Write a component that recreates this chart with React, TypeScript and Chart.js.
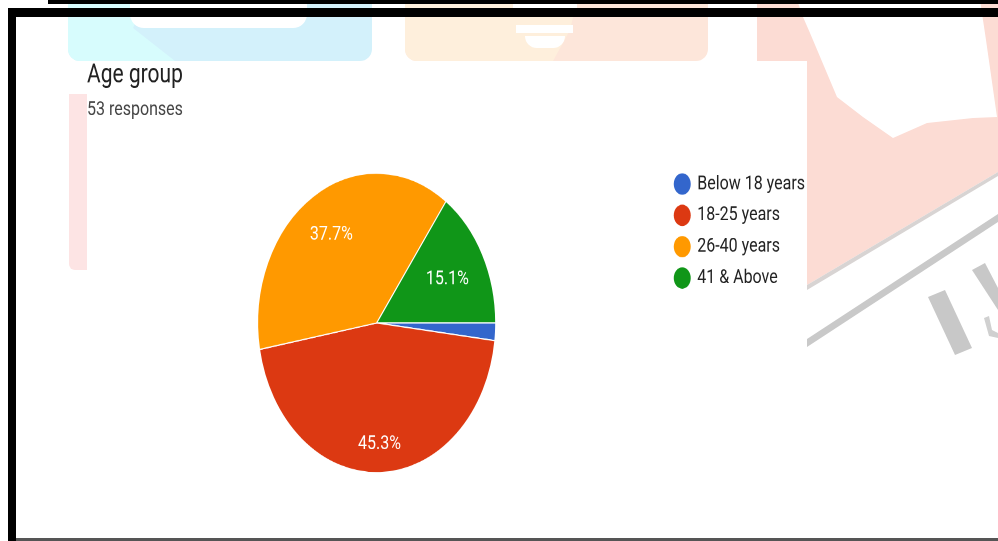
import React, { useEffect, useRef } from 'react';
import { Chart, registerables } from 'chart.js';

Chart.register(...registerables);

// ---- data ----
const categories = ['Below 18 years', '18-25 years', '26-40 years', '41 & Above'];
const responses = [1, 24, 20, 8];
const sliceColors = ['#3366cc', '#dc3912', '#ff9900', '#109618'];
const titleText = 'Age group';
const subtitleText = '53 responses';

// ---- page geometry (the original screenshot is stretched vertically) ----
const PAGE_W = 998;
const PAGE_H = 541;
const LOGICAL_H = 430;

const sliceLabelPlugin = {
  id: 'sliceLabels',
  afterDatasetsDraw(chart: any) {
    const ctx = chart.ctx;
    const meta = chart.getDatasetMeta(0);
    const data = chart.data.datasets[0].data as number[];
    const total = data.reduce((a: number, b: number) => a + b, 0);
    const fontSize = 16;
    ctx.save();
    ctx.font = `${fontSize}px Roboto`;
    ctx.fillStyle = '#ffffff';
    ctx.textAlign = 'center';
    ctx.textBaseline = 'alphabetic';
    meta.data.forEach((arc: any, i: number) => {
      const share = data[i] / total;
      if (share < 0.05) return;
      const { x, y, startAngle, endAngle, outerRadius } = arc.getProps(
        ['x', 'y', 'startAngle', 'endAngle', 'outerRadius'],
        true
      );
      const mid = (startAngle + endAngle) / 2;
      const c = Math.cos(mid);
      const s = Math.sin(mid);
      const text = (share * 100).toFixed(1) + '%';
      const hw = ctx.measureText(text).width / 2;
      const hh = fontSize * 0.36;
      const d = outerRadius * 0.85 - (hw * Math.abs(c) + hh * Math.abs(s));
      ctx.fillText(text, x + c * d, y + s * d + fontSize * 0.355);
    });
    ctx.restore();
  },
};

function defaultLegendLabels(chart: any) {
  const ov: any = (Chart as any).overrides;
  const gen =
    (ov.pie && ov.pie.plugins && ov.pie.plugins.legend && ov.pie.plugins.legend.labels.generateLabels) ||
    ov.doughnut.plugins.legend.labels.generateLabels;
  return gen(chart).map((l: any) => ({ ...l, lineWidth: 0 }));
}

const abs = (s: React.CSSProperties): React.CSSProperties => ({ position: 'absolute', ...s });
const full = (clip: string, color: string): React.CSSProperties =>
  abs({ left: 0, top: 0, width: PAGE_W, height: PAGE_H, background: color, clipPath: `polygon(${clip})` });

export default function App() {
  const ref = useRef<HTMLCanvasElement>(null);

  useEffect(() => {
    if (!ref.current) return;
    const chart = new Chart(ref.current, {
      type: 'pie',
      data: {
        labels: categories,
        datasets: [
          {
            data: responses,
            backgroundColor: sliceColors,
            borderColor: '#ffffff',
            borderWidth: 1,
            radius: 119,
            rotation: 90,
            hoverOffset: 0,
          } as any,
        ],
      },
      options: {
        responsive: false,
        animation: false,
        devicePixelRatio: 2,
        events: [],
        rotation: 90,
        layout: { padding: { left: 87, right: 183, top: 0, bottom: 44.9 } },
        plugins: {
          title: {
            display: true,
            text: titleText,
            align: 'start',
            color: '#212121',
            font: { family: 'Roboto', size: 21, weight: 'normal' },
            padding: { top: 47.6, bottom: 0 },
          },
          subtitle: {
            display: true,
            text: subtitleText,
            align: 'start',
            color: '#444444',
            font: { family: 'Roboto', size: 16, weight: 'normal' },
            padding: { top: 5.3, bottom: 30.96 },
          },
          legend: {
            position: 'right',
            align: 'start',
            fullSize: false,
            title: {
              display: true,
              text: ' ',
              padding: 0,
              font: { family: 'Roboto', size: 1, lineHeight: 1.1 },
            },
            labels: {
              usePointStyle: true,
              pointStyle: 'circle',
              boxWidth: 14,
              boxHeight: 12,
              padding: 8.9,
              color: '#222222',
              font: { family: 'Roboto', size: 16 },
              generateLabels: defaultLegendLabels,
            },
          },
          tooltip: { enabled: false },
        },
      } as any,
      plugins: [sliceLabelPlugin],
    });
    return () => chart.destroy();
  }, []);

  return (
    <div
      style={{
        position: 'absolute',
        left: 0,
        top: 0,
        width: PAGE_W,
        height: PAGE_H,
        overflow: 'hidden',
        background: '#ffffff',
      }}
    >
      {/* faint watermark shapes behind the chart */}
      <div style={abs({ left: 68, top: 0, width: 304, height: 61, background: '#d3f1fb', borderRadius: '0 0 12px 12px', overflow: 'hidden' })}>
        <div style={abs({ left: 0, top: 0, width: 304, height: 61, background: '#d7fcfd', clipPath: 'polygon(0 0, 77px 0, 65px 28px, 107px 61px, 0 61px)' })} />
        <div style={abs({ left: 62, top: -10, width: 177, height: 38, background: '#ffffff', borderRadius: '0 0 14px 14px' })} />
      </div>
      <div style={abs({ left: 405, top: 0, width: 303, height: 61, background: '#fde6da', borderRadius: '0 0 12px 12px', overflow: 'hidden' })}>
        <div style={abs({ left: 0, top: 0, width: 303, height: 61, background: '#feefdc', clipPath: 'polygon(0 0, 172px 0, 165px 30px, 148px 61px, 0 61px)' })} />
        <div style={abs({ left: 108, top: 0, width: 64, height: 8, background: '#ffffff' })} />
        <div style={abs({ left: 111, top: 25, width: 57, height: 8, background: '#ffffff' })} />
        <div style={abs({ left: 120, top: 36, width: 40, height: 12, background: '#ffffff', borderRadius: '0 0 20px 20px' })} />
      </div>
      <div style={full('757px 0, 998px 0, 998px 172px, 807px 285px, 807px 61px, 757px 61px', '#fcdcd4')} />
      <div style={full('797px 0, 980px 0, 986px 40px, 997px 117px, 973px 118px, 927px 123px, 893px 138px, 863px 117px, 837px 97px, 810px 33px, 803px 17px', '#ffffff')} />
      <div style={full('807px 285px, 998px 172px, 998px 176px, 807px 290px', '#d8d4d3')} />
      <div style={full('807px 339px, 998px 214px, 998px 222px, 807px 347px', '#c9c9c9')} />
      <div style={full('928px 297px, 945px 290px, 972px 348px, 955px 355px', '#c8c8c8')} />
      <div style={full('972px 270px, 985px 263px, 998px 288px, 998px 310px', '#c8c8c8')} />
      <div style={full('984px 318px, 989px 316px, 992px 330px, 998px 333px, 998px 338px, 989px 336px', '#d0d0d0')} />
      <div style={abs({ left: 69, top: 94, width: 18, height: 176, background: '#fde4e4', borderBottomLeftRadius: 6 })} />

      <canvas
        ref={ref}
        width={PAGE_W}
        height={LOGICAL_H}
        style={{ position: 'absolute', left: 0, top: 0, width: `${PAGE_W}px`, height: `${PAGE_H}px` }}
      />

      {/* screenshot frame */}
      <div style={abs({ left: 48, top: 0, width: 950, height: 4, background: '#000' })} />
      <div style={abs({ left: 8, top: 8, width: 990, height: 9, background: '#000' })} />
      <div style={abs({ left: 8, top: 8, width: 8, height: 533, background: '#000' })} />
      <div style={abs({ left: 16, top: 538, width: 982, height: 3, background: '#555' })} />
    </div>
  );
}
